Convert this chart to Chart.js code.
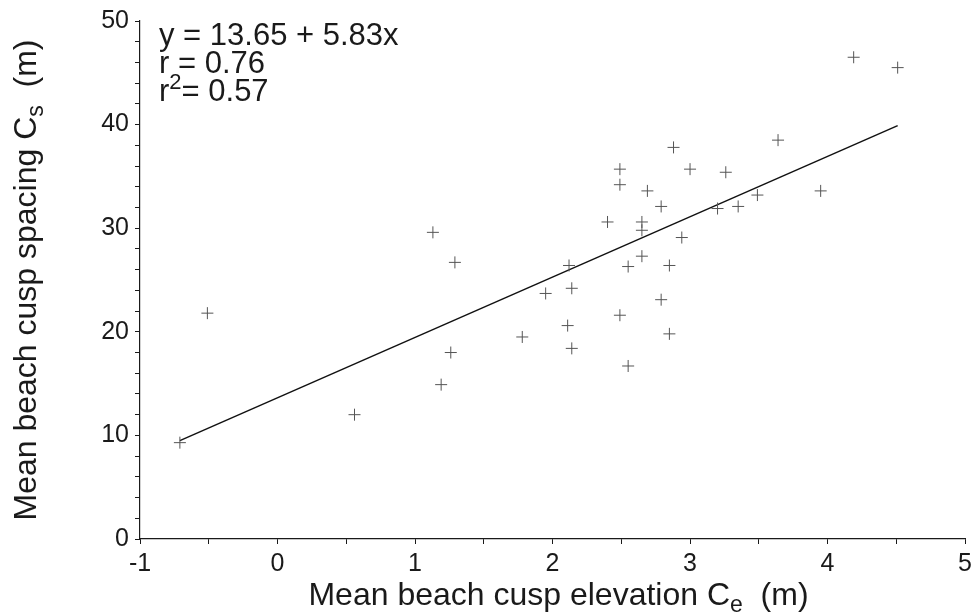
<!DOCTYPE html>
<html>
<head>
<meta charset="utf-8">
<script src="https://cdn.jsdelivr.net/npm/chart.js@4.4.1/dist/chart.umd.min.js"></script>
<style>
  html, body { margin: 0; padding: 0; background: #fff; }
  #wrap { width: 977px; height: 614px; position: relative; }
</style>
</head>
<body>
<div id="wrap"><canvas id="c" width="977" height="614"></canvas></div>
<script>
// Mean beach cusp elevation Ce (m)
const xValues = [-0.71, -0.51, 0.56, 1.13, 1.29, 1.19, 1.26, 1.78, 1.95, 2.12, 2.14, 2.11, 2.14, 2.40, 2.49, 2.49, 2.49, 2.55, 2.55, 2.65, 2.65, 2.65, 2.69, 2.79, 2.79, 2.85, 2.85, 2.88, 2.94, 3.00, 3.20, 3.26, 3.35, 3.49, 3.64, 3.95, 4.19, 4.51];
// Mean beach cusp spacing Cs (m)
const yValues = [9.3, 21.8, 12.0, 29.6, 26.7, 14.9, 18.0, 19.5, 23.7, 26.4, 24.2, 20.6, 18.4, 30.6, 35.7, 34.2, 21.6, 26.3, 16.7, 30.6, 29.8, 27.3, 33.6, 32.1, 23.1, 26.4, 19.8, 37.8, 29.1, 35.7, 31.9, 35.4, 32.1, 33.2, 38.5, 33.6, 46.5, 45.5];
// Regression line end points
const fitX = [-0.71, 4.51];
const fitY = [9.5, 39.9];
// Tick labels
const xTickLabels = [-1, 0, 1, 2, 3, 4, 5];
const yTickLabels = [0, 10, 20, 30, 40, 50];
const annotationLines = ['y = 13.65 + 5.83x', 'r = 0.76', '= 0.57'];

const FONT = "'Liberation Sans', Arial, Helvetica, sans-serif";
const INK = '#1a1a1a';

const points = xValues.map((x, i) => ({ x, y: yValues[i] }));
const fit = fitX.map((x, i) => ({ x, y: fitY[i] }));

function measureParts(ctx, parts, size) {
  let w = 0;
  parts.forEach(p => {
    ctx.font = (p.mode === 'n' ? size : Math.round(size * 0.72)) + 'px ' + FONT;
    p.w = ctx.measureText(p.t).width;
    w += p.w;
  });
  return w;
}
function renderParts(ctx, parts, size, x, y) {
  let cx = x;
  parts.forEach(p => {
    ctx.font = (p.mode === 'n' ? size : Math.round(size * 0.72)) + 'px ' + FONT;
    let dy = 0;
    if (p.mode === 'sub') dy = size * 0.22;
    if (p.mode === 'sup') dy = -size * 0.38;
    ctx.fillText(p.t, cx, y + dy);
    cx += p.w;
  });
}

const textPlugin = {
  id: 'texts',
  afterDraw(chart) {
    const ctx = chart.ctx;
    const area = chart.chartArea;
    ctx.save();
    ctx.fillStyle = INK;
    ctx.textBaseline = 'alphabetic';
    ctx.textAlign = 'left';
    const tsize = 32;
    // x title
    const xParts = [{t: 'Mean beach cusp elevation C', mode: 'n'}, {t: 'e', mode: 'sub'}, {t: '  (m)', mode: 'n'}];
    const xw = measureParts(ctx, xParts, tsize);
    renderParts(ctx, xParts, tsize, (area.left + area.right) / 2 - xw / 2 + 6, 605);
    // y title
    const yParts = [{t: 'Mean beach cusp spacing C', mode: 'n'}, {t: 's', mode: 'sub'}, {t: '  (m)', mode: 'n'}];
    const yw = measureParts(ctx, yParts, tsize);
    ctx.save();
    ctx.translate(36, (area.top + area.bottom) / 2);
    ctx.rotate(-Math.PI / 2);
    renderParts(ctx, yParts, tsize, -yw / 2, 0);
    ctx.restore();
    // annotation
    const asize = 31;
    const ax = 159;
    const l1 = [{t: annotationLines[0], mode: 'n'}];
    measureParts(ctx, l1, asize); renderParts(ctx, l1, asize, ax, 45);
    const l2 = [{t: annotationLines[1], mode: 'n'}];
    measureParts(ctx, l2, asize); renderParts(ctx, l2, asize, ax, 73);
    const l3 = [{t: 'r', mode: 'n'}, {t: '2', mode: 'sup'}, {t: annotationLines[2], mode: 'n'}];
    measureParts(ctx, l3, asize); renderParts(ctx, l3, asize, ax, 101);
    ctx.restore();
  }
};

new Chart(document.getElementById('c'), {
  type: 'scatter',
  data: {
    datasets: [
      {
        label: 'Beach cusps',
        data: points,
        pointStyle: 'cross',
        pointRadius: 6,
        pointHoverRadius: 6,
        borderColor: '#555',
        backgroundColor: '#555',
        pointBorderWidth: 1,
        showLine: false
      },
      {
        label: 'Regression',
        type: 'line',
        data: fit,
        borderColor: '#111',
        borderWidth: 1.5,
        pointRadius: 0,
        fill: false,
        tension: 0
      }
    ]
  },
  options: {
    responsive: false,
    animation: false,
    events: [],
    layout: { padding: { top: 18, right: 11, left: 0, bottom: 0 } },
    plugins: { legend: { display: false }, tooltip: { enabled: false }, title: { display: false } },
    scales: {
      x: {
        type: 'linear',
        min: -1, max: 5,
        afterFit(s) { s.height = 75; },
        border: { display: true, color: INK, width: 1.2 },
        grid: { display: true, drawOnChartArea: false, drawTicks: true, tickLength: 5, color: INK, tickWidth: 1 },
        ticks: {
          stepSize: 0.5, autoSkip: false, maxRotation: 0, padding: 5,
          color: INK, font: { family: FONT, size: 25 },
          callback(v) {
            const r = Math.round(v * 1000) / 1000;
            return xTickLabels.includes(r) ? String(r) : '';
          }
        }
      },
      y: {
        type: 'linear',
        min: 0, max: 50,
        afterFit(s) { s.width = 140; },
        border: { display: true, color: INK, width: 1.2 },
        grid: { display: true, drawOnChartArea: false, drawTicks: true, tickLength: 5, color: INK, tickWidth: 1 },
        ticks: {
          stepSize: 2, autoSkip: false, padding: 6,
          color: INK, font: { family: FONT, size: 25 },
          callback(v) {
            const r = Math.round(v * 1000) / 1000;
            return yTickLabels.includes(r) ? String(r) : '';
          }
        }
      }
    }
  },
  plugins: [textPlugin]
});
</script>
</body>
</html>
